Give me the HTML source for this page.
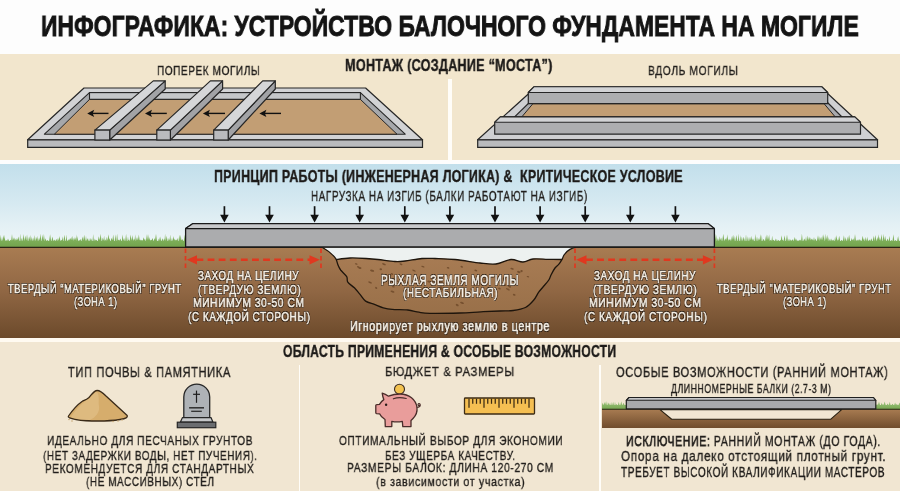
<!DOCTYPE html>
<html><head><meta charset="utf-8"><style>
html,body{margin:0;padding:0;}
body{width:900px;height:491px;position:relative;overflow:hidden;background:#fdfdfd;font-family:"Liberation Sans",sans-serif;}
.bg{position:absolute;left:0;width:900px;}
.ill{position:absolute;left:0;top:0;}
.t{position:absolute;white-space:pre;line-height:1;transform-origin:0 0;will-change:transform;}
.title{font-weight:bold;color:#141414;-webkit-text-stroke:0.9px #141414;}
.h{font-weight:bold;color:#1d1b19;-webkit-text-stroke:0.4px #1d1b19;}
.n{color:#221f1c;-webkit-text-stroke:0.35px #221f1c;}
.n .sb{-webkit-text-stroke:0.75px #221f1c;}
.w{color:#f6f0e6;-webkit-text-stroke:0.65px #f6f0e6;text-shadow:0 0 1px #24170c,0.7px 0.7px 0.3px #24170c,-0.7px -0.7px 0.3px #24170c,0.7px -0.7px 0.3px #24170c,-0.7px 0.7px 0.3px #24170c;}
</style></head><body>
<div class="bg" style="top:54px;height:106px;background:#f2e6cd"></div>
<div class="bg" style="top:337px;height:6px;background:#fffaf1"></div>
<div class="bg" style="top:342px;height:149px;background:#f1e6d2"></div>
<div style="position:absolute;left:448px;top:79px;width:3.6px;height:82px;background:#fffdf8"></div>
<div style="position:absolute;left:298.6px;top:365px;width:1.8px;height:126px;background:#fffdf8"></div>
<div style="position:absolute;left:599.1px;top:365px;width:1.8px;height:126px;background:#fffdf8"></div>
<svg class="ill" width="900" height="491" viewBox="0 0 900 491"><defs>
<linearGradient id="sky" x1="0" y1="0" x2="0" y2="1"><stop offset="0" stop-color="#c2dfeb"/><stop offset="0.45" stop-color="#d5e9f1"/><stop offset="0.75" stop-color="#e5f1f5"/><stop offset="1" stop-color="#eef6f8"/></linearGradient>
<linearGradient id="soil" x1="0" y1="0" x2="0" y2="1"><stop offset="0" stop-color="#a97c52"/><stop offset="0.5" stop-color="#8f6643"/><stop offset="1" stop-color="#6c4a2b"/></linearGradient>
<linearGradient id="grs" x1="0" y1="0" x2="0" y2="1"><stop offset="0" stop-color="#8dba6b"/><stop offset="0.5" stop-color="#7dae58"/><stop offset="1" stop-color="#72a34d"/></linearGradient>
<linearGradient id="grs2" x1="0" y1="0" x2="0" y2="1"><stop offset="0" stop-color="#9cc47d"/><stop offset="1" stop-color="#76a650"/></linearGradient>
<linearGradient id="bowl" x1="0" y1="0" x2="0" y2="1"><stop offset="0" stop-color="#a77b53"/><stop offset="1" stop-color="#997049"/></linearGradient>
<linearGradient id="soil2" x1="0" y1="0" x2="0" y2="1"><stop offset="0" stop-color="#a97c52"/><stop offset="1" stop-color="#704d2d"/></linearGradient>
</defs>
<polygon points="84,88 365.6,88 422.5,139.8 27.7,139.8" fill="#d2d3d5" stroke="#262626" stroke-width="1.2" stroke-linejoin="round"/>
<polygon points="27.7,139.8 422.5,139.8 422.5,147.4 27.7,147.4" fill="#babbbd" stroke="#262626" stroke-width="1.2"/>
<polygon points="89.5,92.6 360.4,92.6 405.2,134.2 44.4,134.2" fill="#a6a8ab" stroke="#262626" stroke-width="1.1" stroke-linejoin="round"/>
<rect x="89.5" y="92.6" width="270.9" height="6.8" fill="#c5c7c9" stroke="#262626" stroke-width="1.1"/>
<polygon points="89.5,99.4 360.4,99.4 397,134.2 54.4,134.2" fill="#c29e74" stroke="#262626" stroke-width="1" stroke-linejoin="round"/>
<line x1="92.2" y1="113.4" x2="108.5" y2="113.4" stroke="#111" stroke-width="1.4"/>
<polygon points="87.2,113.4 94.2,109.80000000000001 92.7,113.4 94.2,117.0" fill="#111"/>
<line x1="150" y1="113.4" x2="166.8" y2="113.4" stroke="#111" stroke-width="1.4"/>
<polygon points="145,113.4 152,109.80000000000001 150.5,113.4 152,117.0" fill="#111"/>
<line x1="207.9" y1="113.4" x2="225" y2="113.4" stroke="#111" stroke-width="1.4"/>
<polygon points="202.9,113.4 209.9,109.80000000000001 208.4,113.4 209.9,117.0" fill="#111"/>
<line x1="264.4" y1="113.4" x2="281" y2="113.4" stroke="#111" stroke-width="1.4"/>
<polygon points="259.4,113.4 266.4,109.80000000000001 264.9,113.4 266.4,117.0" fill="#111"/>
<polygon points="109.7,130.1 109.7,140.0 165.2,89.0 165.2,80.9" fill="#a2a3a6" stroke="#262626" stroke-width="1.2" stroke-linejoin="round"/>
<polygon points="94.9,130.1 109.7,130.1 165.2,80.9 153.3,80.9" fill="#d5d6d8" stroke="#262626" stroke-width="1.2" stroke-linejoin="round"/>
<rect x="94.9" y="130.1" width="14.8" height="9.9" fill="#babbbe" stroke="#262626" stroke-width="1.2"/>
<polygon points="170.4,130.1 170.4,140.0 222.6,89.0 222.6,80.9" fill="#a2a3a6" stroke="#262626" stroke-width="1.2" stroke-linejoin="round"/>
<polygon points="156.8,130.1 170.4,130.1 222.6,80.9 210.4,80.9" fill="#d5d6d8" stroke="#262626" stroke-width="1.2" stroke-linejoin="round"/>
<rect x="156.8" y="130.1" width="13.6" height="9.9" fill="#babbbe" stroke="#262626" stroke-width="1.2"/>
<polygon points="228.2,130.1 228.2,140.0 275.3,89.0 275.3,80.9" fill="#a2a3a6" stroke="#262626" stroke-width="1.2" stroke-linejoin="round"/>
<polygon points="213.7,130.1 228.2,130.1 275.3,80.9 262.7,80.9" fill="#d5d6d8" stroke="#262626" stroke-width="1.2" stroke-linejoin="round"/>
<rect x="213.7" y="130.1" width="14.5" height="9.9" fill="#babbbe" stroke="#262626" stroke-width="1.2"/>
<polygon points="530.5,92 826,92 877.5,139.8 477.7,139.8" fill="#cfd0d2" stroke="#262626" stroke-width="1.2" stroke-linejoin="round"/>
<polygon points="477.7,139.8 877.5,139.8 877.5,147.4 477.7,147.4" fill="#babbbd" stroke="#262626" stroke-width="1.2"/>
<polygon points="536.1,96 821,96 858,133 498,133" fill="#a9aaad" stroke="#262626" stroke-width="1.1" stroke-linejoin="round"/>
<polygon points="532.9,103.7 824.1,103.7 837,119 520,119" fill="#c29e74" stroke="#262626" stroke-width="1" stroke-linejoin="round"/>
<polygon points="533.9,86.8 821.8,86.8 827.7,92.5 827.7,103.7 528.3,103.7 528.3,92.5" fill="#adaeb0" stroke="#262626" stroke-width="1.2" stroke-linejoin="round"/>
<polygon points="533.9,86.8 821.8,86.8 827.7,92.5 528.3,92.5" fill="#d2d3d5" stroke="#262626" stroke-width="1.1" stroke-linejoin="round"/>
<polygon points="500.3,116.9 854.8,116.9 860.5,122.3 860.5,134.2 494.7,134.2 494.7,122.3" fill="#adaeb0" stroke="#262626" stroke-width="1.2" stroke-linejoin="round"/>
<polygon points="500.3,116.9 854.8,116.9 860.5,122.3 494.7,122.3" fill="#d2d3d5" stroke="#262626" stroke-width="1.1" stroke-linejoin="round"/>
<rect x="0" y="164" width="900" height="84" fill="url(#sky)"/>
<path d="M0 247.5 L0 241.0 L0.0 241.0 L0.6 234.5 L1.2 241.0 L1.4 241.0 L2.0 236.8 L2.7 241.0 L2.7 241.0 L3.6 234.9 L4.5 241.0 L4.1 241.0 L4.7 234.6 L5.2 241.0 L5.2 241.0 L6.1 240.0 L7.1 241.0 L7.1 241.0 L8.0 238.5 L9.0 241.0 L9.5 241.0 L10.6 239.8 L11.6 241.0 L11.1 241.0 L12.0 233.9 L12.8 241.0 L12.7 241.0 L13.4 237.3 L14.0 241.0 L13.7 241.0 L14.3 237.2 L15.0 241.0 L15.0 241.0 L15.7 238.5 L16.3 241.0 L16.1 241.0 L16.9 238.1 L17.7 241.0 L17.3 241.0 L18.3 236.4 L19.3 241.0 L19.6 241.0 L20.2 233.5 L20.8 241.0 L21.1 241.0 L21.7 237.8 L22.3 241.0 L22.5 241.0 L23.4 233.9 L24.3 241.0 L24.3 241.0 L25.3 235.6 L26.3 241.0 L26.2 241.0 L27.0 234.3 L27.9 241.0 L28.3 241.0 L29.1 236.2 L29.9 241.0 L29.5 241.0 L30.2 234.8 L30.8 241.0 L30.8 241.0 L31.4 236.4 L32.0 241.0 L32.2 241.0 L33.1 237.6 L34.0 241.0 L34.0 241.0 L34.8 234.9 L35.6 241.0 L35.7 241.0 L36.4 236.8 L37.2 241.0 L36.8 241.0 L37.4 235.4 L37.9 241.0 L38.2 241.0 L39.1 237.4 L39.9 241.0 L39.7 241.0 L40.5 233.6 L41.3 241.0 L41.6 241.0 L42.4 234.4 L43.3 241.0 L43.1 241.0 L43.9 233.8 L44.7 241.0 L44.8 241.0 L45.6 238.2 L46.4 241.0 L46.5 241.0 L47.6 240.0 L48.6 241.0 L49.1 241.0 L50.1 234.2 L51.1 241.0 L51.4 241.0 L52.4 236.6 L53.4 241.0 L53.5 241.0 L54.3 239.6 L55.1 241.0 L55.4 241.0 L56.3 238.7 L57.1 241.0 L57.2 241.0 L58.0 237.7 L58.8 241.0 L58.7 241.0 L59.5 235.9 L60.4 241.0 L60.5 241.0 L61.3 239.8 L62.1 241.0 L61.9 241.0 L62.5 236.2 L63.1 241.0 L63.4 241.0 L64.4 234.8 L65.4 241.0 L65.8 241.0 L66.5 234.5 L67.1 241.0 L67.3 241.0 L67.9 239.9 L68.4 241.0 L68.1 241.0 L69.1 238.4 L70.1 241.0 L69.7 241.0 L70.6 237.8 L71.4 241.0 L71.1 241.0 L71.7 236.6 L72.3 241.0 L72.1 241.0 L72.8 235.4 L73.4 241.0 L73.4 241.0 L74.1 236.9 L74.8 241.0 L74.5 241.0 L75.2 237.3 L76.0 241.0 L75.8 241.0 L76.3 234.2 L76.9 241.0 L76.9 241.0 L77.6 236.1 L78.2 241.0 L78.5 241.0 L79.0 239.9 L79.5 241.0 L79.3 241.0 L80.3 239.0 L81.2 241.0 L81.5 241.0 L82.4 236.5 L83.3 241.0 L83.1 241.0 L84.2 234.8 L85.3 241.0 L85.4 241.0 L86.0 235.8 L86.6 241.0 L86.6 241.0 L87.5 237.9 L88.3 241.0 L88.5 241.0 L89.0 238.1 L89.6 241.0 L89.9 241.0 L90.9 238.0 L92.0 241.0 L92.5 241.0 L93.2 233.9 L93.8 241.0 L94.1 241.0 L94.9 238.4 L95.6 241.0 L95.2 241.0 L96.3 239.8 L97.3 241.0 L97.8 241.0 L98.8 236.3 L99.9 241.0 L99.6 241.0 L100.6 233.7 L101.6 241.0 L102.0 241.0 L102.8 237.5 L103.6 241.0 L103.5 241.0 L104.1 235.6 L104.7 241.0 L104.7 241.0 L105.4 239.3 L106.0 241.0 L106.1 241.0 L106.8 236.8 L107.5 241.0 L107.4 241.0 L108.4 234.2 L109.5 241.0 L109.0 241.0 L109.6 237.9 L110.2 241.0 L110.6 241.0 L111.6 237.8 L112.6 241.0 L112.3 241.0 L113.2 234.6 L114.1 241.0 L114.7 241.0 L115.4 234.3 L116.1 241.0 L116.3 241.0 L117.1 233.6 L117.9 241.0 L117.7 241.0 L118.6 239.4 L119.6 241.0 L119.3 241.0 L120.3 238.6 L121.4 241.0 L121.8 241.0 L122.6 234.5 L123.5 241.0 L123.4 241.0 L124.1 238.1 L124.8 241.0 L125.2 241.0 L126.1 233.8 L126.9 241.0 L127.4 241.0 L128.0 236.4 L128.5 241.0 L128.3 241.0 L128.9 239.5 L129.4 241.0 L129.6 241.0 L130.6 234.6 L131.6 241.0 L131.5 241.0 L132.4 234.9 L133.2 241.0 L133.2 241.0 L134.0 238.5 L134.9 241.0 L134.5 241.0 L135.2 234.2 L135.8 241.0 L135.9 241.0 L137.0 237.0 L138.1 241.0 L137.9 241.0 L138.8 234.6 L139.8 241.0 L139.3 241.0 L140.2 239.4 L141.1 241.0 L140.8 241.0 L141.8 239.7 L142.9 241.0 L142.6 241.0 L143.7 237.3 L144.8 241.0 L144.4 241.0 L145.0 238.4 L145.6 241.0 L145.9 241.0 L146.4 234.1 L147.0 241.0 L146.9 241.0 L148.0 234.1 L149.1 241.0 L148.9 241.0 L149.6 236.9 L150.2 241.0 L150.0 241.0 L150.9 239.7 L151.8 241.0 L151.3 241.0 L152.4 238.1 L153.5 241.0 L153.7 241.0 L154.5 238.0 L155.3 241.0 L154.9 241.0 L156.0 233.7 L157.0 241.0 L157.7 241.0 L158.3 238.6 L158.8 241.0 L159.0 241.0 L160.1 236.5 L161.1 241.0 L161.5 241.0 L162.4 238.3 L163.3 241.0 L163.4 241.0 L164.1 238.4 L164.8 241.0 L164.5 241.0 L165.1 233.6 L165.8 241.0 L165.8 241.0 L166.7 235.8 L167.6 241.0 L168.1 241.0 L168.9 238.0 L169.6 241.0 L169.5 241.0 L170.2 234.5 L170.9 241.0 L171.3 241.0 L172.0 237.8 L172.6 241.0 L172.7 241.0 L173.6 236.1 L174.4 241.0 L174.2 241.0 L174.8 238.4 L175.3 241.0 L175.1 241.0 L175.9 239.5 L176.7 241.0 L176.4 241.0 L177.3 238.1 L178.1 241.0 L178.5 241.0 L179.3 234.4 L180.1 241.0 L179.9 241.0 L180.7 234.8 L181.5 241.0 L181.1 241.0 L182.2 238.9 L183.3 241.0 L183.7 241.0 L184.8 234.7 L185.9 241.0 L185.7 241.0 L186.3 236.7 L186.9 241.0 L186 241.0 L186 247.5 Z" fill="url(#grs)"/>
<path d="M714 247.5 L714 241.0 L714.0 241.0 L715.1 233.8 L716.1 241.0 L715.7 241.0 L716.2 234.6 L716.8 241.0 L717.0 241.0 L717.9 238.0 L718.8 241.0 L719.0 241.0 L719.8 236.2 L720.7 241.0 L720.4 241.0 L721.2 237.4 L721.9 241.0 L722.2 241.0 L723.3 233.8 L724.4 241.0 L724.5 241.0 L725.3 238.3 L726.1 241.0 L725.7 241.0 L726.2 237.0 L726.8 241.0 L726.7 241.0 L727.4 234.2 L728.2 241.0 L728.2 241.0 L729.1 238.5 L729.9 241.0 L729.5 241.0 L730.2 239.1 L730.9 241.0 L731.0 241.0 L732.1 235.6 L733.2 241.0 L732.8 241.0 L733.9 234.8 L734.9 241.0 L735.3 241.0 L736.3 235.0 L737.4 241.0 L737.8 241.0 L738.5 233.6 L739.2 241.0 L739.7 241.0 L740.3 235.1 L740.9 241.0 L741.1 241.0 L741.9 236.6 L742.6 241.0 L742.7 241.0 L743.7 236.7 L744.8 241.0 L745.3 241.0 L746.0 234.3 L746.7 241.0 L747.1 241.0 L747.9 236.3 L748.7 241.0 L749.1 241.0 L750.0 236.8 L751.0 241.0 L750.8 241.0 L751.4 235.5 L752.1 241.0 L751.9 241.0 L753.0 238.3 L754.0 241.0 L754.6 241.0 L755.3 233.8 L756.0 241.0 L756.2 241.0 L757.0 236.6 L757.8 241.0 L758.0 241.0 L758.9 238.0 L759.7 241.0 L759.5 241.0 L760.3 233.9 L761.1 241.0 L761.3 241.0 L761.8 234.7 L762.4 241.0 L762.6 241.0 L763.6 238.8 L764.7 241.0 L765.1 241.0 L765.6 235.8 L766.1 241.0 L766.0 241.0 L766.7 234.3 L767.3 241.0 L767.1 241.0 L767.9 234.4 L768.7 241.0 L768.5 241.0 L769.1 234.3 L769.8 241.0 L769.8 241.0 L770.7 239.8 L771.6 241.0 L771.5 241.0 L772.2 235.6 L772.8 241.0 L772.5 241.0 L773.6 239.8 L774.7 241.0 L775.0 241.0 L775.5 238.3 L776.1 241.0 L776.3 241.0 L776.9 238.8 L777.5 241.0 L777.7 241.0 L778.4 239.7 L779.1 241.0 L779.6 241.0 L780.2 239.8 L780.8 241.0 L780.7 241.0 L781.6 235.2 L782.5 241.0 L782.1 241.0 L782.8 239.8 L783.5 241.0 L783.6 241.0 L784.5 235.2 L785.5 241.0 L786.0 241.0 L787.0 234.4 L787.9 241.0 L788.2 241.0 L789.0 238.5 L789.8 241.0 L790.0 241.0 L790.7 239.3 L791.4 241.0 L791.4 241.0 L792.4 239.2 L793.5 241.0 L793.6 241.0 L794.4 236.7 L795.1 241.0 L794.9 241.0 L795.9 238.3 L797.0 241.0 L797.2 241.0 L798.0 239.9 L798.7 241.0 L798.9 241.0 L799.4 239.6 L800.0 241.0 L799.8 241.0 L800.4 239.4 L801.0 241.0 L801.1 241.0 L801.9 233.6 L802.7 241.0 L803.2 241.0 L804.3 238.5 L805.4 241.0 L805.4 241.0 L806.0 236.2 L806.7 241.0 L806.8 241.0 L807.8 235.4 L808.8 241.0 L808.6 241.0 L809.4 236.6 L810.1 241.0 L809.7 241.0 L810.3 237.3 L810.8 241.0 L810.6 241.0 L811.5 238.4 L812.5 241.0 L812.1 241.0 L812.7 238.5 L813.3 241.0 L813.2 241.0 L814.0 237.0 L814.8 241.0 L814.7 241.0 L815.6 238.6 L816.5 241.0 L816.9 241.0 L818.0 235.3 L819.1 241.0 L819.1 241.0 L819.9 236.2 L820.7 241.0 L820.4 241.0 L821.1 236.6 L821.9 241.0 L821.7 241.0 L822.2 234.8 L822.8 241.0 L822.7 241.0 L823.5 234.0 L824.3 241.0 L824.5 241.0 L825.2 233.6 L825.9 241.0 L825.8 241.0 L826.3 235.5 L826.8 241.0 L826.6 241.0 L827.3 234.5 L828.0 241.0 L828.2 241.0 L828.7 237.1 L829.2 241.0 L829.2 241.0 L830.0 238.6 L830.8 241.0 L831.0 241.0 L831.5 238.2 L832.0 241.0 L832.0 241.0 L833.1 239.5 L834.1 241.0 L834.5 241.0 L835.1 236.3 L835.8 241.0 L835.7 241.0 L836.5 235.1 L837.3 241.0 L837.3 241.0 L837.8 239.2 L838.4 241.0 L838.2 241.0 L839.2 235.8 L840.2 241.0 L840.8 241.0 L841.7 239.8 L842.7 241.0 L842.9 241.0 L843.9 235.3 L844.8 241.0 L844.9 241.0 L845.6 237.0 L846.3 241.0 L846.6 241.0 L847.3 236.6 L848.0 241.0 L848.0 241.0 L849.1 234.8 L850.2 241.0 L850.8 241.0 L851.8 238.1 L852.8 241.0 L852.6 241.0 L853.3 238.3 L854.1 241.0 L854.1 241.0 L855.0 234.0 L856.0 241.0 L856.1 241.0 L857.1 239.4 L858.1 241.0 L858.0 241.0 L859.1 239.0 L860.2 241.0 L860.2 241.0 L860.7 239.4 L861.3 241.0 L861.6 241.0 L862.7 235.8 L863.8 241.0 L863.4 241.0 L864.1 238.5 L864.7 241.0 L864.9 241.0 L865.8 237.1 L866.7 241.0 L866.8 241.0 L867.4 236.5 L868.0 241.0 L868.3 241.0 L869.3 239.4 L870.2 241.0 L870.3 241.0 L871.3 238.3 L872.2 241.0 L872.7 241.0 L873.5 235.4 L874.2 241.0 L874.2 241.0 L875.3 234.9 L876.4 241.0 L876.6 241.0 L877.2 237.1 L877.8 241.0 L877.5 241.0 L878.4 234.3 L879.2 241.0 L879.0 241.0 L879.8 236.9 L880.6 241.0 L880.6 241.0 L881.5 233.9 L882.4 241.0 L882.7 241.0 L883.5 233.7 L884.3 241.0 L884.2 241.0 L885.1 235.7 L886.1 241.0 L886.5 241.0 L887.5 238.5 L888.5 241.0 L888.7 241.0 L889.4 235.7 L890.2 241.0 L890.7 241.0 L891.5 239.9 L892.4 241.0 L892.5 241.0 L893.4 234.3 L894.3 241.0 L894.6 241.0 L895.5 239.9 L896.5 241.0 L897.1 241.0 L898.1 236.1 L899.0 241.0 L899.5 241.0 L900.6 239.3 L901.6 241.0 L900 241.0 L900 247.5 Z" fill="url(#grs)"/>
<rect x="0" y="247" width="900" height="91" fill="url(#soil)"/>
<line x1="0" y1="247.3" x2="900" y2="247.3" stroke="#2a2214" stroke-width="1.3"/>
<path d="M321,247.6 L576,247.6 C573,247.5 567,250 564,255 C563,257 562.5,258.5 562,259.5 C559.7,259.5 552.8,259.4 548.0,259.3 C543.2,259.2 537.2,258.6 533.0,259.0 C528.8,259.4 526.7,261.9 523.0,262.0 C519.3,262.1 515.5,259.2 511.0,259.5 C506.5,259.8 501.2,263.4 496.0,264.0 C490.8,264.6 486.8,263.8 480.0,263.0 C473.2,262.2 462.5,260.2 455.0,259.5 C447.5,258.8 440.5,258.7 435.0,258.5 C429.5,258.3 427.0,258.1 422.0,258.5 C417.0,258.9 409.5,260.5 405.0,261.0 C400.5,261.5 399.5,261.8 395.0,261.5 C390.5,261.2 382.8,260.0 378.0,259.5 C373.2,259.0 370.7,258.8 366.0,258.5 C361.3,258.2 354.9,257.8 350.0,258.0 C345.1,258.2 338.6,259.2 336.3,259.5 C333,254 327,250 323,247.6 Z" fill="#edf1f0"/>
<path d="M336.3,259.5 C338.6,259.2 345.1,258.2 350.0,258.0 C354.9,257.8 361.3,258.2 366.0,258.5 C370.7,258.8 373.2,259.0 378.0,259.5 C382.8,260.0 390.5,261.2 395.0,261.5 C399.5,261.8 400.5,261.5 405.0,261.0 C409.5,260.5 417.0,258.9 422.0,258.5 C427.0,258.1 429.5,258.3 435.0,258.5 C440.5,258.7 447.5,258.8 455.0,259.5 C462.5,260.2 473.2,262.2 480.0,263.0 C486.8,263.8 490.8,264.6 496.0,264.0 C501.2,263.4 506.5,259.8 511.0,259.5 C515.5,259.2 519.3,262.1 523.0,262.0 C526.7,261.9 528.8,259.4 533.0,259.0 C537.2,258.6 543.2,259.2 548.0,259.3 C552.8,259.4 559.7,259.5 562.0,259.5 C561.5,260.3 560.1,262.8 558.9,264.2 C557.7,265.6 556.3,266.2 555.0,268.0 C553.7,269.8 552.0,273.0 551.0,275.0 C550.0,277.0 550.1,278.0 548.8,280.0 C547.5,282.0 544.7,285.0 543.0,287.0 C541.3,289.0 540.3,290.0 538.7,292.2 C537.1,294.4 535.8,297.8 533.6,300.3 C531.4,302.9 528.8,305.8 525.4,307.5 C522.0,309.2 517.4,309.9 513.2,310.5 C509.0,311.1 505.4,310.8 500.0,311.0 C494.6,311.2 487.7,311.5 481.0,311.8 C474.3,312.1 468.5,312.8 460.0,313.0 C451.5,313.2 436.9,313.4 430.0,313.3 C423.1,313.2 422.6,312.8 418.9,312.2 C415.2,311.6 412.2,310.5 407.8,310.0 C403.4,309.5 396.3,309.8 392.2,309.4 C388.1,309.0 386.3,308.6 383.3,307.8 C380.3,307.0 377.3,305.5 374.4,304.4 C371.4,303.3 368.0,302.8 365.6,301.1 C363.2,299.4 361.9,296.6 360.0,294.4 C358.1,292.2 356.4,289.8 354.4,287.8 C352.4,285.8 349.1,284.1 347.8,282.2 C346.5,280.3 347.9,278.7 346.7,276.7 C345.5,274.7 342.1,271.9 340.6,270.0 C339.2,268.1 338.7,266.8 338.0,265.0 C337.3,263.2 336.6,260.4 336.3,259.5 Z" fill="url(#bowl)" stroke="#1e150c" stroke-width="1.3" stroke-linejoin="round"/>
<ellipse cx="414.0" cy="270.6" rx="1.9" ry="0.7" fill="#76502f" opacity="1" transform="rotate(23 414.0 270.6)"/>
<ellipse cx="422.9" cy="266.6" rx="1.7" ry="0.7" fill="#76502f" opacity="1" transform="rotate(21 422.9 266.6)"/>
<ellipse cx="359.9" cy="268.0" rx="1.6" ry="1.0" fill="#76502f" opacity="1" transform="rotate(13 359.9 268.0)"/>
<ellipse cx="392.5" cy="291.6" rx="2.1" ry="0.9" fill="#76502f" opacity="1" transform="rotate(20 392.5 291.6)"/>
<ellipse cx="527.9" cy="276.7" rx="1.3" ry="0.7" fill="#76502f" opacity="1" transform="rotate(18 527.9 276.7)"/>
<ellipse cx="518.8" cy="272.0" rx="1.8" ry="1.0" fill="#76502f" opacity="1" transform="rotate(19 518.8 272.0)"/>
<ellipse cx="461.7" cy="266.8" rx="1.3" ry="0.8" fill="#76502f" opacity="1" transform="rotate(27 461.7 266.8)"/>
<ellipse cx="436.1" cy="277.8" rx="1.8" ry="0.9" fill="#76502f" opacity="1" transform="rotate(17 436.1 277.8)"/>
<ellipse cx="514.2" cy="294.8" rx="1.4" ry="0.9" fill="#76502f" opacity="1" transform="rotate(23 514.2 294.8)"/>
<ellipse cx="370.1" cy="282.4" rx="2.0" ry="0.8" fill="#76502f" opacity="1" transform="rotate(22 370.1 282.4)"/>
<ellipse cx="507.9" cy="289.2" rx="2.1" ry="0.8" fill="#76502f" opacity="1" transform="rotate(27 507.9 289.2)"/>
<ellipse cx="471.6" cy="289.5" rx="1.7" ry="1.0" fill="#76502f" opacity="1" transform="rotate(34 471.6 289.5)"/>
<ellipse cx="446.0" cy="293.2" rx="1.3" ry="1.0" fill="#76502f" opacity="1" transform="rotate(26 446.0 293.2)"/>
<ellipse cx="405.6" cy="281.0" rx="1.9" ry="0.7" fill="#76502f" opacity="1" transform="rotate(22 405.6 281.0)"/>
<ellipse cx="380.8" cy="269.2" rx="1.3" ry="1.0" fill="#76502f" opacity="1" transform="rotate(13 380.8 269.2)"/>
<ellipse cx="397.7" cy="281.2" rx="2.1" ry="0.7" fill="#76502f" opacity="1" transform="rotate(21 397.7 281.2)"/>
<ellipse cx="462.0" cy="302.9" rx="2.0" ry="1.0" fill="#76502f" opacity="1" transform="rotate(17 462.0 302.9)"/>
<ellipse cx="433.5" cy="279.8" rx="2.1" ry="1.1" fill="#76502f" opacity="1" transform="rotate(14 433.5 279.8)"/>
<ellipse cx="382.5" cy="274.2" rx="1.4" ry="0.9" fill="#76502f" opacity="1" transform="rotate(25 382.5 274.2)"/>
<ellipse cx="401.0" cy="264.2" rx="1.6" ry="0.8" fill="#76502f" opacity="1" transform="rotate(24 401.0 264.2)"/>
<ellipse cx="454.8" cy="291.2" rx="1.9" ry="0.7" fill="#76502f" opacity="1" transform="rotate(32 454.8 291.2)"/>
<ellipse cx="514.9" cy="281.3" rx="1.6" ry="0.7" fill="#76502f" opacity="1" transform="rotate(26 514.9 281.3)"/>
<ellipse cx="358.3" cy="267.0" rx="1.4" ry="0.8" fill="#76502f" opacity="1" transform="rotate(19 358.3 267.0)"/>
<ellipse cx="356.2" cy="264.0" rx="1.4" ry="0.7" fill="#76502f" opacity="1" transform="rotate(19 356.2 264.0)"/>
<ellipse cx="475.8" cy="270.5" rx="1.5" ry="0.8" fill="#76502f" opacity="1" transform="rotate(19 475.8 270.5)"/>
<ellipse cx="448.1" cy="267.8" rx="1.3" ry="0.8" fill="#76502f" opacity="1" transform="rotate(17 448.1 267.8)"/>
<ellipse cx="521.5" cy="271.1" rx="1.2" ry="1.1" fill="#76502f" opacity="1" transform="rotate(23 521.5 271.1)"/>
<ellipse cx="376.2" cy="287.9" rx="1.2" ry="0.9" fill="#76502f" opacity="1" transform="rotate(34 376.2 287.9)"/>
<ellipse cx="400.6" cy="280.1" rx="1.4" ry="1.0" fill="#76502f" opacity="1" transform="rotate(23 400.6 280.1)"/>
<ellipse cx="510.9" cy="278.5" rx="1.4" ry="1.0" fill="#76502f" opacity="1" transform="rotate(35 510.9 278.5)"/>
<ellipse cx="393.3" cy="286.8" rx="1.6" ry="0.7" fill="#76502f" opacity="1" transform="rotate(11 393.3 286.8)"/>
<ellipse cx="404.5" cy="275.4" rx="1.9" ry="1.1" fill="#76502f" opacity="1" transform="rotate(21 404.5 275.4)"/>
<ellipse cx="392.0" cy="274.0" rx="1.4" ry="0.8" fill="#76502f" opacity="1" transform="rotate(26 392.0 274.0)"/>
<ellipse cx="447.1" cy="292.7" rx="2.0" ry="0.7" fill="#76502f" opacity="1" transform="rotate(27 447.1 292.7)"/>
<ellipse cx="504.8" cy="285.0" rx="1.4" ry="1.0" fill="#76502f" opacity="1" transform="rotate(18 504.8 285.0)"/>
<ellipse cx="429.3" cy="281.7" rx="2.1" ry="1.0" fill="#76502f" opacity="1" transform="rotate(14 429.3 281.7)"/>
<ellipse cx="372.1" cy="270.7" rx="2.1" ry="1.0" fill="#76502f" opacity="1" transform="rotate(14 372.1 270.7)"/>
<ellipse cx="485.0" cy="279.4" rx="1.7" ry="0.8" fill="#76502f" opacity="1" transform="rotate(10 485.0 279.4)"/>
<ellipse cx="457.2" cy="305.1" rx="1.6" ry="1.0" fill="#76502f" opacity="1" transform="rotate(31 457.2 305.1)"/>
<ellipse cx="390.0" cy="275.1" rx="1.5" ry="0.8" fill="#76502f" opacity="1" transform="rotate(25 390.0 275.1)"/>
<ellipse cx="400.2" cy="282.4" rx="1.3" ry="1.1" fill="#76502f" opacity="1" transform="rotate(19 400.2 282.4)"/>
<ellipse cx="442.6" cy="289.7" rx="2.1" ry="0.9" fill="#76502f" opacity="1" transform="rotate(33 442.6 289.7)"/>
<ellipse cx="451.9" cy="287.4" rx="1.7" ry="0.7" fill="#76502f" opacity="1" transform="rotate(21 451.9 287.4)"/>
<ellipse cx="384.0" cy="264.2" rx="2.0" ry="0.8" fill="#76502f" opacity="1" transform="rotate(22 384.0 264.2)"/>
<ellipse cx="499.5" cy="288.5" rx="1.5" ry="0.9" fill="#76502f" opacity="1" transform="rotate(24 499.5 288.5)"/>
<ellipse cx="512.1" cy="268.7" rx="1.8" ry="0.8" fill="#76502f" opacity="1" transform="rotate(17 512.1 268.7)"/>
<ellipse cx="509.5" cy="286.3" rx="1.8" ry="1.0" fill="#76502f" opacity="1" transform="rotate(33 509.5 286.3)"/>
<ellipse cx="439.4" cy="291.0" rx="1.7" ry="0.9" fill="#76502f" opacity="1" transform="rotate(27 439.4 291.0)"/>
<ellipse cx="441.3" cy="287.5" rx="1.7" ry="1.1" fill="#76502f" opacity="1" transform="rotate(27 441.3 287.5)"/>
<path d="M322.5,247.5 C327,250 333,254 336.3,259.5" fill="none" stroke="#1e150c" stroke-width="1.2"/>
<path d="M575.5,247.5 C573,247.5 567,250 564,255 C563,257 562.5,258.5 562,259.5" fill="none" stroke="#1e150c" stroke-width="1.2"/>
<polygon points="193,223.6 708,223.6 714.4,228.6 714.4,247 185.6,247 185.6,228.6" fill="#abacae" stroke="#1a1a1a" stroke-width="1.3" stroke-linejoin="round"/>
<polygon points="193,223.6 708,223.6 714.4,228.6 185.6,228.6" fill="#c8c9cb" stroke="#1a1a1a" stroke-width="1.2" stroke-linejoin="round"/>
<line x1="224.4" y1="206.2" x2="224.4" y2="216" stroke="#111" stroke-width="1.7"/>
<polygon points="220.1,214.8 228.7,214.8 224.4,222.6" fill="#111"/>
<line x1="269.5" y1="206.2" x2="269.5" y2="216" stroke="#111" stroke-width="1.7"/>
<polygon points="265.2,214.8 273.8,214.8 269.5,222.6" fill="#111"/>
<line x1="314.6" y1="206.2" x2="314.6" y2="216" stroke="#111" stroke-width="1.7"/>
<polygon points="310.3,214.8 318.9,214.8 314.6,222.6" fill="#111"/>
<line x1="359.7" y1="206.2" x2="359.7" y2="216" stroke="#111" stroke-width="1.7"/>
<polygon points="355.4,214.8 364.0,214.8 359.7,222.6" fill="#111"/>
<line x1="404.8" y1="206.2" x2="404.8" y2="216" stroke="#111" stroke-width="1.7"/>
<polygon points="400.5,214.8 409.1,214.8 404.8,222.6" fill="#111"/>
<line x1="449.9" y1="206.2" x2="449.9" y2="216" stroke="#111" stroke-width="1.7"/>
<polygon points="445.6,214.8 454.2,214.8 449.9,222.6" fill="#111"/>
<line x1="495.0" y1="206.2" x2="495.0" y2="216" stroke="#111" stroke-width="1.7"/>
<polygon points="490.7,214.8 499.3,214.8 495.0,222.6" fill="#111"/>
<line x1="540.1" y1="206.2" x2="540.1" y2="216" stroke="#111" stroke-width="1.7"/>
<polygon points="535.8,214.8 544.4,214.8 540.1,222.6" fill="#111"/>
<line x1="585.2" y1="206.2" x2="585.2" y2="216" stroke="#111" stroke-width="1.7"/>
<polygon points="580.9,214.8 589.5,214.8 585.2,222.6" fill="#111"/>
<line x1="630.3" y1="206.2" x2="630.3" y2="216" stroke="#111" stroke-width="1.7"/>
<polygon points="626.0,214.8 634.6,214.8 630.3,222.6" fill="#111"/>
<line x1="675.4" y1="206.2" x2="675.4" y2="216" stroke="#111" stroke-width="1.7"/>
<polygon points="671.1,214.8 679.7,214.8 675.4,222.6" fill="#111"/>
<line x1="185.5" y1="248.5" x2="185.5" y2="269.5" stroke="#e0381f" stroke-width="1.7" stroke-dasharray="4.5 3"/>
<line x1="321" y1="248.5" x2="321" y2="269.5" stroke="#e0381f" stroke-width="1.7" stroke-dasharray="4.5 3"/>
<line x1="196.5" y1="259.8" x2="310" y2="259.8" stroke="#e0381f" stroke-width="2.4" stroke-dasharray="6.8 4.3"/>
<polygon points="186.7,259.8 197.0,255.2 197.0,264.4" fill="#e0381f"/>
<polygon points="319.8,259.8 309.5,255.2 309.5,264.4" fill="#e0381f"/>
<line x1="575" y1="248.5" x2="575" y2="269.5" stroke="#e0381f" stroke-width="1.7" stroke-dasharray="4.5 3"/>
<line x1="714.4" y1="248.5" x2="714.4" y2="269.5" stroke="#e0381f" stroke-width="1.7" stroke-dasharray="4.5 3"/>
<line x1="586" y1="259.8" x2="703.4" y2="259.8" stroke="#e0381f" stroke-width="2.4" stroke-dasharray="6.8 4.3"/>
<polygon points="576.2,259.8 586.5,255.2 586.5,264.4" fill="#e0381f"/>
<polygon points="713.1999999999999,259.8 702.9,255.2 702.9,264.4" fill="#e0381f"/>
<path d="M68.5,416 C72,411 77,405 82,401.5 C85,400 87,399.5 89,397.5 C92,394 94,390.5 97.2,390.5 C100,390.5 103,393 106,396 L127.2,415.5 C128,417.5 126,418.5 120,419.5 C108,421.5 88,421.5 76,419.5 C70,418.5 67.5,417.5 68.5,416 Z" fill="#d6ad6c" stroke="#3a2a18" stroke-width="1.3" stroke-linejoin="round"/>
<path d="M97,392 C100,396 98,402 99,406 C100,412 96,417 90,420 C80,420 74,419 71,417 C76,409 83,402 90,398 C93,395 95,392 97,392 Z" fill="#e0bd85" opacity="0.8"/>
<circle cx="69" cy="419.5" r="0.8" fill="#c9a977"/>
<circle cx="72" cy="421" r="0.8" fill="#c9a977"/>
<circle cx="113" cy="421.5" r="0.8" fill="#c9a977"/>
<circle cx="118" cy="421" r="0.8" fill="#c9a977"/>
<circle cx="122" cy="420" r="0.8" fill="#c9a977"/>
<path d="M183.8,417.6 L183.8,397 A12.95,12.95 0 0 1 209.7,397 L209.7,417.6 Z" fill="#aeb2b6" stroke="#262626" stroke-width="1.3"/>
<polygon points="182.5,417.6 211,417.6 213,422.2 180.3,422.2" fill="#c6c8ca" stroke="#262626" stroke-width="1.2" stroke-linejoin="round"/>
<rect x="177.3" y="422.2" width="38.5" height="5.5" fill="#6b6d70" stroke="#262626" stroke-width="1.2"/>
<line x1="196.5" y1="390.6" x2="196.5" y2="402.8" stroke="#1e1e1e" stroke-width="1.2"/>
<line x1="193.1" y1="394.3" x2="200" y2="394.3" stroke="#1e1e1e" stroke-width="1.2"/>
<line x1="189.1" y1="407.8" x2="204" y2="407.8" stroke="#2e2e2e" stroke-width="1.5"/>
<line x1="191.2" y1="411.3" x2="201.8" y2="411.3" stroke="#2e2e2e" stroke-width="1.3"/>
<circle cx="399.5" cy="389.2" r="5" fill="#f3c24f" stroke="#3c2c22" stroke-width="1.1"/>
<path d="M382.2,393.2 C384.5,393.8 386.5,394.8 388.5,396.2 C392,394.8 396,394 400,394 C409,394 416,399.5 417,407.5 C417.5,412 416,415.5 413,418.5 L411,420.5 L411,426.6 L402.8,426.6 L402.3,421.3 C399,422 395,422 391.8,421.3 L391.8,426.6 L385.3,426.6 L385,419.5 C382.5,418 380.5,416 379.6,413.8 L376.6,413.6 C376,413.5 375.8,413 375.8,412.5 L375.8,405.5 C375.8,405 376.2,404.6 376.7,404.6 L379.5,404.4 C380.5,402.5 382,400.8 383.8,399.6 C383,397.5 382.5,395.5 382.2,393.2 Z" fill="#e99d9b" stroke="#4a2d2a" stroke-width="1.3" stroke-linejoin="round"/>
<path d="M393.4,398.8 C397,397.4 402,397.4 406.2,398.5" fill="none" stroke="#4a2d2a" stroke-width="1.2" stroke-linecap="round"/>
<circle cx="386.1" cy="404.7" r="1.2" fill="#2a1a18"/>
<path d="M416.8,407.2 C418.6,407.6 420.6,406.6 420.3,404.8 C420,403.4 418.4,403.3 418,404.4 C417.7,405.4 418.9,406 419.9,405.3" fill="none" stroke="#4a2d2a" stroke-width="1.1"/>
<rect x="464.5" y="398" width="70" height="16" rx="0.8" fill="#f5bf52" stroke="#3c2c16" stroke-width="1.3"/>
<line x1="469.00" y1="398.8" x2="469.00" y2="407.8" stroke="#3a2a12" stroke-width="1.25"/>
<line x1="472.75" y1="398.8" x2="472.75" y2="403.8" stroke="#3a2a12" stroke-width="1.25"/>
<line x1="476.50" y1="398.8" x2="476.50" y2="403.8" stroke="#3a2a12" stroke-width="1.25"/>
<line x1="480.25" y1="398.8" x2="480.25" y2="403.8" stroke="#3a2a12" stroke-width="1.25"/>
<line x1="484.00" y1="398.8" x2="484.00" y2="407.8" stroke="#3a2a12" stroke-width="1.25"/>
<line x1="487.75" y1="398.8" x2="487.75" y2="403.8" stroke="#3a2a12" stroke-width="1.25"/>
<line x1="491.50" y1="398.8" x2="491.50" y2="403.8" stroke="#3a2a12" stroke-width="1.25"/>
<line x1="495.25" y1="398.8" x2="495.25" y2="403.8" stroke="#3a2a12" stroke-width="1.25"/>
<line x1="499.00" y1="398.8" x2="499.00" y2="407.8" stroke="#3a2a12" stroke-width="1.25"/>
<line x1="502.75" y1="398.8" x2="502.75" y2="403.8" stroke="#3a2a12" stroke-width="1.25"/>
<line x1="506.50" y1="398.8" x2="506.50" y2="403.8" stroke="#3a2a12" stroke-width="1.25"/>
<line x1="510.25" y1="398.8" x2="510.25" y2="403.8" stroke="#3a2a12" stroke-width="1.25"/>
<line x1="514.00" y1="398.8" x2="514.00" y2="407.8" stroke="#3a2a12" stroke-width="1.25"/>
<line x1="517.75" y1="398.8" x2="517.75" y2="403.8" stroke="#3a2a12" stroke-width="1.25"/>
<line x1="521.50" y1="398.8" x2="521.50" y2="403.8" stroke="#3a2a12" stroke-width="1.25"/>
<line x1="525.25" y1="398.8" x2="525.25" y2="403.8" stroke="#3a2a12" stroke-width="1.25"/>
<line x1="529.00" y1="398.8" x2="529.00" y2="407.8" stroke="#3a2a12" stroke-width="1.25"/>
<rect x="602" y="409" width="298" height="19" fill="url(#soil2)"/>
<path d="M602 409.5 L602 405.0 L602.0 405.0 L602.6 402.4 L603.3 405.0 L603.5 405.0 L604.4 402.1 L605.2 405.0 L605.1 405.0 L605.6 401.5 L606.1 405.0 L606.2 405.0 L606.9 401.0 L607.5 405.0 L607.8 405.0 L608.8 402.6 L609.8 405.0 L610.5 405.0 L611.1 402.1 L611.7 405.0 L612.3 405.0 L613.1 401.8 L613.9 405.0 L614.5 405.0 L615.0 401.7 L615.6 405.0 L615.9 405.0 L616.6 403.9 L617.3 405.0 L618.0 405.0 L618.8 401.8 L619.5 405.0 L620.3 405.0 L621.3 401.2 L622.2 405.0 L622.5 405.0 L623.5 402.7 L624.5 405.0 L625.6 405.0 L626.6 403.7 L627.6 405.0 L627 405.0 L627 409.5 Z" fill="url(#grs2)"/>
<path d="M875 409.5 L875 405.0 L875.0 405.0 L875.6 403.7 L876.3 405.0 L876.5 405.0 L877.1 403.8 L877.7 405.0 L877.9 405.0 L879.0 401.6 L880.0 405.0 L880.9 405.0 L881.6 402.4 L882.2 405.0 L882.3 405.0 L882.9 403.7 L883.5 405.0 L883.6 405.0 L884.6 401.5 L885.7 405.0 L886.7 405.0 L887.7 403.4 L888.6 405.0 L888.9 405.0 L889.7 401.8 L890.6 405.0 L891.5 405.0 L892.5 403.7 L893.5 405.0 L894.2 405.0 L895.1 402.5 L896.0 405.0 L896.1 405.0 L896.8 403.7 L897.6 405.0 L898.5 405.0 L899.5 402.4 L900.5 405.0 L900 405.0 L900 409.5 Z" fill="url(#grs2)"/>
<line x1="602" y1="409.2" x2="900" y2="409.2" stroke="#2a2214" stroke-width="1.1"/>
<polygon points="660,409.6 671.7,419.2 830.8,419.2 841.7,409.6" fill="#f1e6d3" stroke="#2a2214" stroke-width="1.1" stroke-linejoin="round"/>
<polygon points="629,397.5 873.3,397.5 875.8,400.3 875.8,408.8 626.3,408.8 626.3,400.3" fill="#a8a9ac" stroke="#1f1f1f" stroke-width="1.2" stroke-linejoin="round"/>
<polygon points="629,397.5 873.3,397.5 875.8,400.3 626.3,400.3" fill="#c5c6c8" stroke="#1f1f1f" stroke-width="1.1" stroke-linejoin="round"/></svg>
<div class="t title" style="left:40.92px;top:10.52px;font-size:30.09px;letter-spacing:0.00px;transform:scaleX(0.7631)">ИНФОГРАФИКА: УСТРОЙСТВО БАЛОЧНОГО ФУНДАМЕНТА НА МОГИЛЕ</div>
<div class="t h" style="left:345.36px;top:57.71px;font-size:15.70px;letter-spacing:0.31px;transform:scaleX(0.8045)">МОНТАЖ (СОЗДАНИЕ “МОСТА”)</div>
<div class="t n" style="left:156.79px;top:64.05px;font-size:13.52px;letter-spacing:0.81px;transform:scaleX(0.7406)">ПОПЕРЕК МОГИЛЫ</div>
<div class="t n" style="left:648.15px;top:64.43px;font-size:13.08px;letter-spacing:0.78px;transform:scaleX(0.7851)">ВДОЛЬ МОГИЛЫ</div>
<div class="t h" style="left:214.40px;top:168.74px;font-size:16.72px;letter-spacing:0.33px;transform:scaleX(0.7473)">ПРИНЦИП РАБОТЫ (ИНЖЕНЕРНАЯ ЛОГИКА) &  КРИТИЧЕСКОЕ УСЛОВИЕ</div>
<div class="t n" style="left:311.41px;top:190.31px;font-size:13.81px;letter-spacing:0.83px;transform:scaleX(0.7164)">НАГРУЗКА НА ИЗГИБ (БАЛКИ РАБОТАЮТ НА ИЗГИБ)</div>
<div class="t w" style="left:198.34px;top:269.05px;font-size:13.52px;letter-spacing:0.81px;transform:scaleX(0.7248)">ЗАХОД НА ЦЕЛИНУ</div>
<div class="t w" style="left:197.54px;top:282.65px;font-size:13.52px;letter-spacing:0.81px;transform:scaleX(0.7289)">(ТВЕРДУЮ ЗЕМЛЮ)</div>
<div class="t w" style="left:193.39px;top:296.25px;font-size:13.52px;letter-spacing:0.81px;transform:scaleX(0.7566)">МИНИМУМ 30-50 СМ</div>
<div class="t w" style="left:188.34px;top:309.85px;font-size:13.52px;letter-spacing:0.81px;transform:scaleX(0.7294)">(С КАЖДОЙ СТОРОНЫ)</div>
<div class="t w" style="left:594.14px;top:269.05px;font-size:13.52px;letter-spacing:0.81px;transform:scaleX(0.7312)">ЗАХОД НА ЦЕЛИНУ</div>
<div class="t w" style="left:593.34px;top:282.65px;font-size:13.52px;letter-spacing:0.81px;transform:scaleX(0.7353)">(ТВЕРДУЮ ЗЕМЛЮ)</div>
<div class="t w" style="left:589.08px;top:296.25px;font-size:13.52px;letter-spacing:0.81px;transform:scaleX(0.7634)">МИНИМУМ 30-50 СМ</div>
<div class="t w" style="left:584.14px;top:309.85px;font-size:13.52px;letter-spacing:0.81px;transform:scaleX(0.7348)">(С КАЖДОЙ СТОРОНЫ)</div>
<div class="t w" style="left:8.23px;top:282.40px;font-size:13.23px;letter-spacing:0.79px;transform:scaleX(0.7086)">ТВЕРДЫЙ “МАТЕРИКОВЫЙ” ГРУНТ</div>
<div class="t w" style="left:73.63px;top:295.13px;font-size:13.08px;letter-spacing:0.78px;transform:scaleX(0.7025)">(ЗОНА 1)</div>
<div class="t w" style="left:717.13px;top:282.40px;font-size:13.23px;letter-spacing:0.79px;transform:scaleX(0.7114)">ТВЕРДЫЙ "МАТЕРИКОВЫЙ" ГРУНТ</div>
<div class="t w" style="left:782.63px;top:295.13px;font-size:13.08px;letter-spacing:0.78px;transform:scaleX(0.7073)">(ЗОНА 1)</div>
<div class="t w" style="left:380.92px;top:272.76px;font-size:14.10px;letter-spacing:0.85px;transform:scaleX(0.7061)">РЫХЛАЯ ЗЕМЛЯ МОГИЛЫ</div>
<div class="t w" style="left:402.54px;top:285.88px;font-size:13.37px;letter-spacing:0.80px;transform:scaleX(0.7389)">(НЕСТАБИЛЬНАЯ)</div>
<div class="t w" style="left:349.89px;top:318.74px;font-size:14.24px;letter-spacing:0.85px;transform:scaleX(0.7496)">Игнорирует рыхлую землю в центре</div>
<div class="t h" style="left:283.45px;top:344.39px;font-size:15.84px;letter-spacing:0.32px;transform:scaleX(0.7682)">ОБЛАСТЬ ПРИМЕНЕНИЯ & ОСОБЫЕ ВОЗМОЖНОСТИ</div>
<div class="t n" style="left:67.94px;top:365.61px;font-size:13.81px;letter-spacing:0.83px;transform:scaleX(0.8009)">ТИП ПОЧВЫ & ПАМЯТНИКА</div>
<div class="t n" style="left:385.31px;top:365.28px;font-size:13.37px;letter-spacing:0.80px;transform:scaleX(0.8386)">БЮДЖЕТ & РАЗМЕРЫ</div>
<div class="t n" style="left:615.74px;top:364.64px;font-size:14.24px;letter-spacing:0.85px;transform:scaleX(0.7752)">ОСОБЫЕ ВОЗМОЖНОСТИ (РАННИЙ МОНТАЖ)</div>
<div class="t n" style="left:670.83px;top:383.09px;font-size:12.06px;letter-spacing:0.72px;transform:scaleX(0.7288)">ДЛИННОМЕРНЫЕ БАЛКИ (2.7-3 М)</div>
<div class="t n" style="left:46.58px;top:433.98px;font-size:13.37px;letter-spacing:0.80px;transform:scaleX(0.7548)">ИДЕАЛЬНО ДЛЯ ПЕСЧАНЫХ ГРУНТОВ</div>
<div class="t n" style="left:42.63px;top:448.68px;font-size:13.37px;letter-spacing:0.80px;transform:scaleX(0.7427)">(НЕТ ЗАДЕРЖКИ ВОДЫ, НЕТ ПУЧЕНИЯ).</div>
<div class="t n" style="left:45.37px;top:461.80px;font-size:13.23px;letter-spacing:0.79px;transform:scaleX(0.7610)">РЕКОМЕНДУЕТСЯ ДЛЯ СТАНДАРТНЫХ</div>
<div class="t n" style="left:85.73px;top:475.08px;font-size:13.37px;letter-spacing:0.80px;transform:scaleX(0.7430)">(НЕ МАССИВНЫХ) СТЕЛ</div>
<div class="t n" style="left:339.03px;top:433.95px;font-size:13.52px;letter-spacing:0.81px;transform:scaleX(0.7486)">ОПТИМАЛЬНЫЙ ВЫБОР ДЛЯ ЭКОНОМИИ</div>
<div class="t n" style="left:384.68px;top:448.68px;font-size:13.37px;letter-spacing:0.80px;transform:scaleX(0.7476)">БЕЗ УЩЕРБА КАЧЕСТВУ.</div>
<div class="t n" style="left:347.18px;top:461.43px;font-size:13.66px;letter-spacing:0.82px;transform:scaleX(0.7516)">РАЗМЕРЫ БАЛОК: ДЛИНА 120-270 СМ</div>
<div class="t n" style="left:375.74px;top:474.88px;font-size:13.37px;letter-spacing:0.80px;transform:scaleX(0.7950)">(в зависимости от участка)</div>
<div class="t n" style="left:626.20px;top:434.32px;font-size:14.39px;letter-spacing:0.86px;transform:scaleX(0.7306)"><span class="sb">ИСКЛЮЧЕНИЕ:</span> РАННИЙ МОНТАЖ (ДО ГОДА).</div>
<div class="t n" style="left:621.44px;top:448.62px;font-size:14.39px;letter-spacing:0.86px;transform:scaleX(0.8141)">Опора на далеко отстоящий плотный грунт.</div>
<div class="t n" style="left:621.42px;top:465.06px;font-size:14.10px;letter-spacing:0.85px;transform:scaleX(0.7103)">ТРЕБУЕТ ВЫСОКОЙ КВАЛИФИКАЦИИ МАСТЕРОВ</div>
</body></html>
